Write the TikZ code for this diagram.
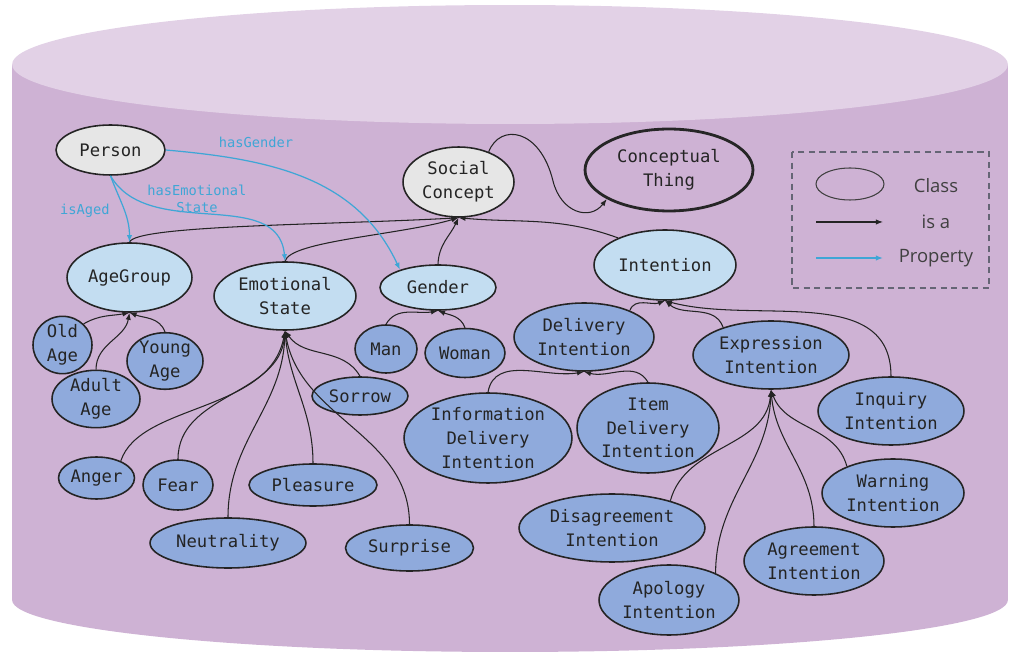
\documentclass[tikz,border=0pt]{standalone}
\usepackage{fontspec}
\newfontfamily\ontofont{DejaVu Sans Mono}
\newfontfamily\legfont{Open Sans}
\usetikzlibrary{shapes.geometric,arrows.meta}
\definecolor{cyltop}{HTML}{E2D1E6}
\definecolor{cylbody}{HTML}{CEB2D4}
\definecolor{grayfill}{HTML}{E6E6E6}
\definecolor{lightblue}{HTML}{C3DDF1}
\definecolor{darkblue}{HTML}{8FAADC}
\definecolor{propblue}{HTML}{3FA6D6}
\definecolor{inkgray}{HTML}{242424}
\definecolor{leggray}{HTML}{404040}
\definecolor{boxgray}{HTML}{656575}

\begin{document}
\begin{tikzpicture}[x=0.02cm, y=0.02cm,
    cls/.style={ellipse, draw=inkgray, line width=0.9pt, inner sep=0pt, align=center, text=inkgray,
      font=\ontofont\fontsize{9.8}{13.5}\selectfont},
    sz/.style 2 args={minimum width=#1*0.04cm, minimum height=#2*0.04cm},
    rootcls/.style={cls, fill=grayfill},
    midcls/.style={cls, fill=lightblue},
    leafcls/.style={cls, fill=darkblue},
    isa/.style={-{Latex[length=4pt,width=3pt]}, line width=0.6pt, draw=inkgray},
    prop/.style={-{Latex[length=4pt,width=3pt]}, line width=0.7pt, draw=propblue},
    proplabel/.style={text=propblue, align=center, font=\ontofont\fontsize{7.8}{10}\selectfont},
    legtext/.style={text=leggray, font=\legfont\fontsize{10.5}{12}\selectfont}]
    \useasboundingbox (0,0) rectangle (1015,653);

    % Cylinder
    \fill[cylbody] (12,53) rectangle (1008,588.5);
    \fill[cylbody] (510,53) ellipse[x radius=9.96cm, y radius=1.04cm];
    \fill[cyltop] (510,588.5) ellipse[x radius=9.96cm, y radius=1.19cm];

    % Top classes
    \node[rootcls, sz={54.5}{25}] (person) at (110.5,503) {Person};
    \node[rootcls, sz={55.5}{35}] (social) at (458.5,471) {Social\\Concept};
    \node[cls, line width=1.6pt, draw=black!85, sz={84}{41}] (concept) at (669,483) {Conceptual\\Thing};

    % Second level
    \node[midcls, sz={62.5}{34.5}] (agegroup) at (129.5,375.5) {AgeGroup};
    \node[midcls, sz={71}{34}] (emstate) at (285,357) {Emotional\\State};
    \node[midcls, sz={58}{22.5}] (gender) at (438,365.5) {Gender};
    \node[midcls, sz={71}{35}] (intention) at (665,388) {Intention};

    % Leaves
    \node[leafcls, sz={29.5}{27}] (oldage) at (62.5,308) {Old\\Age};
    \node[leafcls, sz={38}{26}] (youngage) at (165,292) {Young\\Age};
    \node[leafcls, sz={44}{27}] (adultage) at (96,254) {Adult\\Age};
    \node[leafcls, sz={31}{24}] (man) at (386,304) {Man};
    \node[leafcls, sz={40}{24.5}] (woman) at (465,300) {Woman};
    \node[leafcls, sz={48}{19}] (sorrow) at (360,257) {Sorrow};
    \node[leafcls, sz={38}{21}] (anger) at (96.5,175) {Anger};
    \node[leafcls, sz={35}{25}] (fear) at (178,168) {Fear};
    \node[leafcls, sz={64}{21}] (pleasure) at (313,168) {Pleasure};
    \node[leafcls, sz={78}{25}] (neutrality) at (228,110) {Neutrality};
    \node[leafcls, sz={64}{23}] (surprise) at (409.5,105) {Surprise};
    \node[leafcls, sz={70}{34}] (delivery) at (584,316) {Delivery\\Intention};
    \node[leafcls, sz={78}{34}] (expression) at (771,298) {Expression\\Intention};
    \node[leafcls, sz={84}{45}] (infodel) at (488,215) {Information\\Delivery\\Intention};
    \node[leafcls, sz={71}{45}] (itemdel) at (648,225) {Item\\Delivery\\Intention};
    \node[leafcls, sz={73}{34}] (inquiry) at (891,242) {Inquiry\\Intention};
    \node[leafcls, sz={71}{34}] (warning) at (893,160) {Warning\\Intention};
    \node[leafcls, sz={93}{34}] (disagree) at (612,125) {Disagreement\\Intention};
    \node[leafcls, sz={70}{34}] (agree) at (814,92) {Agreement\\Intention};
    \node[leafcls, sz={70}{35}] (apology) at (669,53) {Apology\\Intention};

    % is-a links
    \draw[isa] (agegroup.north) .. controls (135,428) and (330,428) .. (social.south);
    \draw[isa] (emstate.north) .. controls (290,412) and (400,418) .. (social.south);
    \draw[isa] (gender.north) to[out=88,in=245] (social.south);
    \draw[isa] (intention.150) to[out=160,in=-5] (social.south);
    \draw[isa] (social.45) .. controls (500,530) and (540,525) .. (553,472)
        .. controls (561,440) and (590,432) .. (concept.205);

    \draw[isa] (oldage.45) to[out=30,in=190] (agegroup.south);
    \draw[isa] (adultage.north) to[out=90,in=260] (agegroup.south);
    \draw[isa] (youngage.north) to[out=110,in=-20] (agegroup.south);

    \draw[isa] (anger.35) .. controls (140,250) and (270,240) .. (emstate.south);
    \draw[isa] (fear.north) to[out=90,in=265] (emstate.south);
    \draw[isa] (neutrality.north) to[out=90,in=268] (emstate.south);
    \draw[isa] (pleasure.north) to[out=90,in=275] (emstate.south);
    \draw[isa] (surprise.north) to[out=90,in=280] (emstate.south);
    \draw[isa] (sorrow.north) to[out=120,in=-55] (emstate.south);

    \draw[isa] (man.north) to[out=60,in=190] (gender.south);
    \draw[isa] (woman.north) to[out=110,in=-20] (gender.south);

    \draw[isa] (delivery.30) to[out=70,in=200] (intention.south);
    \draw[isa] (expression.150) to[out=110,in=-40] (intention.south);
    \draw[isa] (inquiry.north) to[out=90,in=-15] (intention.south);

    \draw[isa] (infodel.north) to[out=80,in=190] (delivery.south);
    \draw[isa] (itemdel.north) to[out=120,in=-15] (delivery.south);

    \draw[isa] (disagree.25) to[out=75,in=265] (expression.south);
    \draw[isa] (apology.30) to[out=90,in=268] (expression.south);
    \draw[isa] (agree.north) to[out=90,in=275] (expression.south);
    \draw[isa] (warning.150) to[out=105,in=-70] (expression.south);

    % Properties
    \draw[prop] (person.south) to[out=-70,in=90] (agegroup.north);
    \draw[prop] (person.south) to[out=-60,in=95] (emstate.north);
    \draw[prop] (person.east) to[out=-5,in=115] (gender.155);
    \node[proplabel] (lbaged) at (85,442) {isAged};
    \node[proplabel] (lbemo) at (197,454) {hasEmotional\\State};
    \node[proplabel] (lbgender) at (256,511) {hasGender};

    % Legend
    \draw[boxgray, line width=0.8pt, dash pattern=on 3.5pt off 2.5pt] (792,501) rectangle (989,365);
    \node[ellipse, draw=leggray, line width=0.6pt, sz={34}{16}] (legcls) at (850,469) {};
    \node[legtext] (lgclass) at (936,467) {Class};
    \node[legtext] (lgisa) at (936,431) {is a};
    \node[legtext] (lgprop) at (936,395) {Property};
    \coordinate (isa0) at (816,431);
    \coordinate (isa1) at (883,431);
    \draw[isa] (isa0) -- (isa1);
    \coordinate (prop0) at (816,395);
    \coordinate (prop1) at (883,395);
    \draw[prop] (prop0) -- (prop1);
\end{tikzpicture}
\end{document}
